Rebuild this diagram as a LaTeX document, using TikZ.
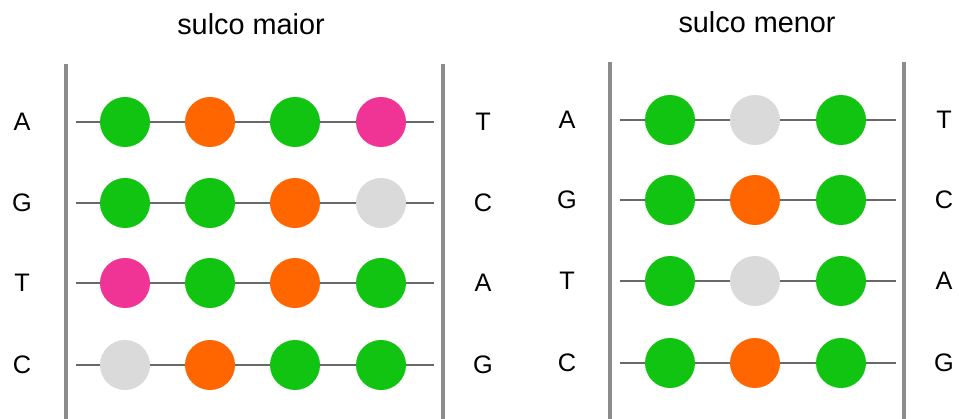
\documentclass[tikz,border=0pt]{standalone}
\usepackage{fontspec}
\setmainfont{Liberation Sans}
\definecolor{verde}{RGB}{18,196,18}
\definecolor{laranja}{RGB}{255,102,0}
\definecolor{rosa}{RGB}{240,52,150}
\definecolor{cinza}{RGB}{218,218,218}
\definecolor{barra}{RGB}{140,140,140}
\definecolor{elo}{RGB}{105,105,105}
\tikzset{
  bola/.style={circle,inner sep=0pt,minimum size=1.25cm},
  letra/.style={font=\fontsize{18}{18}\selectfont},
  titulo/.style={font=\fontsize{20.5}{20.5}\selectfont},
  fita/.style={line width=2.2pt,draw=barra},
  ligacao/.style={line width=0.9pt,draw=elo}
}
\begin{document}
\begin{tikzpicture}[x=0.025cm,y=-0.025cm]
\useasboundingbox (0,0) rectangle (959,419);
% Sulco maior
\node[titulo] (tmaior) at (251,24) {sulco maior};
\coordinate (m0t) at (66,64); \coordinate (m0b) at (66,419);
\coordinate (m1t) at (443,64); \coordinate (m1b) at (443,419);
\draw[fita] (m0t) -- (m0b) (m1t) -- (m1b);
\coordinate (mAi) at (76,122); \coordinate (mAf) at (434,122);
\coordinate (mGi) at (76,203); \coordinate (mGf) at (434,203);
\coordinate (mTi) at (76,283); \coordinate (mTf) at (434,283);
\coordinate (mCi) at (76,365); \coordinate (mCf) at (434,365);
\draw[ligacao] (mAi) -- (mAf) (mGi) -- (mGf) (mTi) -- (mTf) (mCi) -- (mCf);
\node[letra] (lmA) at (22,122) {A};
\node[letra] (lmG) at (22,203) {G};
\node[letra] (lmT) at (22,283) {T};
\node[letra] (lmC) at (22,365) {C};
\node[letra] (rmT) at (483,122) {T};
\node[letra] (rmC) at (483,203) {C};
\node[letra] (rmA) at (483,283) {A};
\node[letra] (rmG) at (483,365) {G};
\node[bola,fill=verde] (mA1) at (125,122) {};
\node[bola,fill=laranja] (mA2) at (210,122) {};
\node[bola,fill=verde] (mA3) at (295,122) {};
\node[bola,fill=rosa] (mA4) at (381,122) {};
\node[bola,fill=verde] (mG1) at (125,203) {};
\node[bola,fill=verde] (mG2) at (210,203) {};
\node[bola,fill=laranja] (mG3) at (295,203) {};
\node[bola,fill=cinza] (mG4) at (381,203) {};
\node[bola,fill=rosa] (mT1) at (125,283) {};
\node[bola,fill=verde] (mT2) at (210,283) {};
\node[bola,fill=laranja] (mT3) at (295,283) {};
\node[bola,fill=verde] (mT4) at (381,283) {};
\node[bola,fill=cinza] (mC1) at (125,365) {};
\node[bola,fill=laranja] (mC2) at (210,365) {};
\node[bola,fill=verde] (mC3) at (295,365) {};
\node[bola,fill=verde] (mC4) at (381,365) {};
% Sulco menor
\node[titulo] (tmenor) at (757,22) {sulco menor};
\coordinate (n0t) at (610,62); \coordinate (n0b) at (610,419);
\coordinate (n1t) at (904,62); \coordinate (n1b) at (904,419);
\draw[fita] (n0t) -- (n0b) (n1t) -- (n1b);
\coordinate (nAi) at (620,120); \coordinate (nAf) at (896,120);
\coordinate (nGi) at (620,200); \coordinate (nGf) at (896,200);
\coordinate (nTi) at (620,281); \coordinate (nTf) at (896,281);
\coordinate (nCi) at (620,363); \coordinate (nCf) at (896,363);
\draw[ligacao] (nAi) -- (nAf) (nGi) -- (nGf) (nTi) -- (nTf) (nCi) -- (nCf);
\node[letra] (lnA) at (567,120) {A};
\node[letra] (lnG) at (567,200) {G};
\node[letra] (lnT) at (567,281) {T};
\node[letra] (lnC) at (567,363) {C};
\node[letra] (rnT) at (944,120) {T};
\node[letra] (rnC) at (944,200) {C};
\node[letra] (rnA) at (944,281) {A};
\node[letra] (rnG) at (944,363) {G};
\node[bola,fill=verde] (nA1) at (670,120) {};
\node[bola,fill=cinza] (nA2) at (755,120) {};
\node[bola,fill=verde] (nA3) at (841,120) {};
\node[bola,fill=verde] (nG1) at (670,200) {};
\node[bola,fill=laranja] (nG2) at (755,200) {};
\node[bola,fill=verde] (nG3) at (841,200) {};
\node[bola,fill=verde] (nT1) at (670,281) {};
\node[bola,fill=cinza] (nT2) at (755,281) {};
\node[bola,fill=verde] (nT3) at (841,281) {};
\node[bola,fill=verde] (nC1) at (670,363) {};
\node[bola,fill=laranja] (nC2) at (755,363) {};
\node[bola,fill=verde] (nC3) at (841,363) {};
\end{tikzpicture}
\end{document}
